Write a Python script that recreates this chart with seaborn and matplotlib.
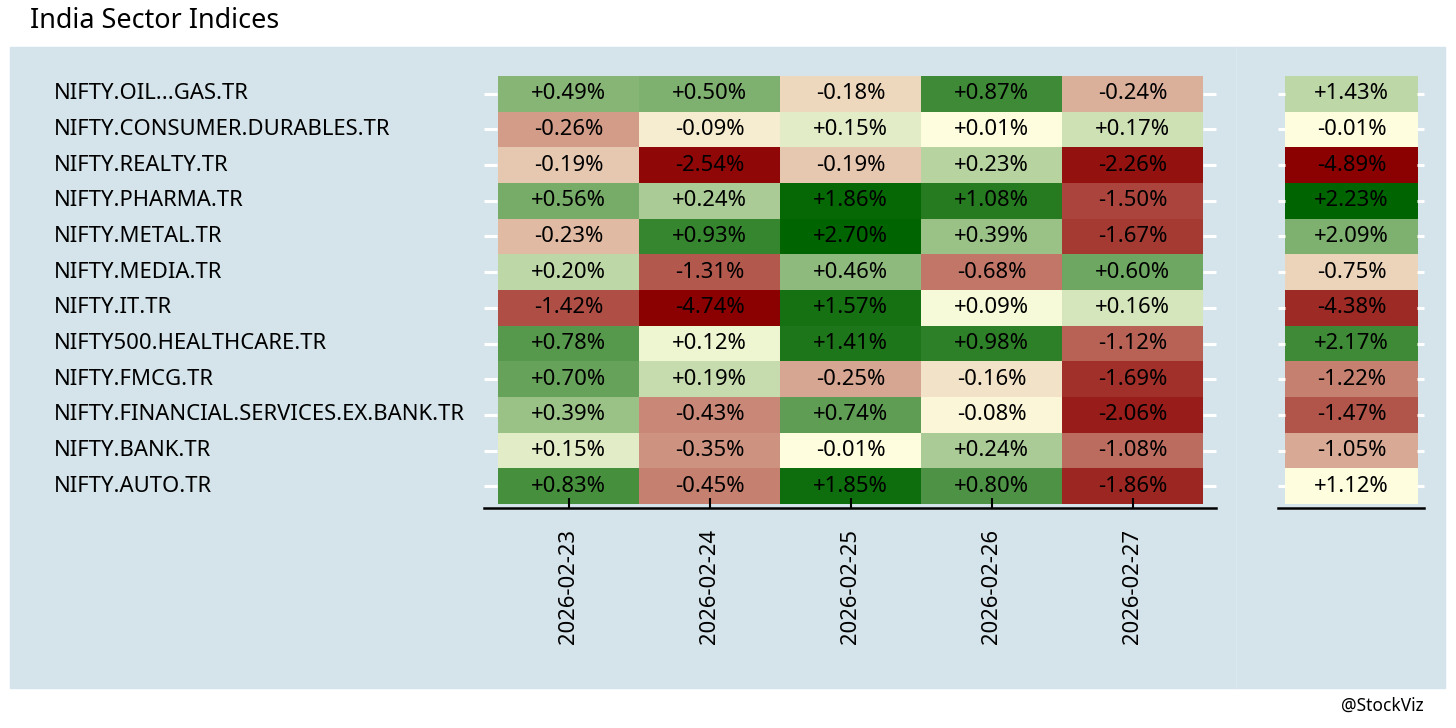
import numpy as np
import pandas as pd
import seaborn as sns
import matplotlib.pyplot as plt
from matplotlib.colors import LinearSegmentedColormap
from matplotlib.patches import Rectangle

# Data (daily % returns, plus the weekly total)
indices = ['NIFTY.OIL...GAS.TR', 'NIFTY.CONSUMER.DURABLES.TR', 'NIFTY.REALTY.TR',
           'NIFTY.PHARMA.TR', 'NIFTY.METAL.TR', 'NIFTY.MEDIA.TR', 'NIFTY.IT.TR',
           'NIFTY500.HEALTHCARE.TR', 'NIFTY.FMCG.TR', 'NIFTY.FINANCIAL.SERVICES.EX.BANK.TR',
           'NIFTY.BANK.TR', 'NIFTY.AUTO.TR']
dates = ['2026-02-23', '2026-02-24', '2026-02-25', '2026-02-26', '2026-02-27']
d0223 = [0.49, -0.26, -0.19, 0.56, -0.23, 0.20, -1.42, 0.78, 0.70, 0.39, 0.15, 0.83]
d0224 = [0.50, -0.09, -2.54, 0.24, 0.93, -1.31, -4.74, 0.12, 0.19, -0.43, -0.35, -0.45]
d0225 = [-0.18, 0.15, -0.19, 1.86, 2.70, 0.46, 1.57, 1.41, -0.25, 0.74, -0.01, 1.85]
d0226 = [0.87, 0.01, 0.23, 1.08, 0.39, -0.68, 0.09, 0.98, -0.16, -0.08, 0.24, 0.80]
d0227 = [-0.24, 0.17, -2.26, -1.50, -1.67, 0.60, 0.16, -1.12, -1.69, -2.06, -1.08, -1.86]
total = [1.43, -0.01, -4.89, 2.23, 2.09, -0.75, -4.38, 2.17, -1.22, -1.47, -1.05, 1.12]

df = pd.DataFrame({'2026-02-23': d0223, '2026-02-24': d0224, '2026-02-25': d0225,
                   '2026-02-26': d0226, '2026-02-27': d0227}, index=indices)[dates]
df_tot = pd.DataFrame({'total': total}, index=indices)


# fill scale: rank within sign, so -1 = most negative, +1 = most positive
def signed_rank(frame):
    s = frame.stack()
    out = pd.Series(0.0, index=s.index)
    for sign in (1, -1):
        part = s[s * sign > 0].abs()
        r = part.rank(method='average')
        out[part.index] = sign * (r - 1) / max(len(part) - 1, 1)
    return out.unstack().loc[frame.index, frame.columns]


def pct(frame):
    return frame.map(lambda v: f'{v:+.2f}%')


cmap = LinearSegmentedColormap.from_list('rg', ['#8B0000', '#FFFFE0', '#006400'])
plt.rcParams['font.family'] = ['Noto Sans', 'DejaVu Sans']

fig = plt.figure(figsize=(14.56, 7.28), dpi=100)
W, H = 1456, 728
fig.patches.append(Rectangle((10 / W, 1 - 688 / H), 1435 / W, 641 / H,
                             transform=fig.transFigure, color='#d5e4eb', zorder=-2))
fig.lines.append(plt.Line2D([1236 / W] * 2, [1 - 688 / H, 1 - 47 / H],
                            transform=fig.transFigure, color='#dae7ed', lw=1, zorder=-1))

ax = fig.add_axes([484 / W, 1 - 508 / H, 732 / W, 436 / H])
ax2 = fig.add_axes([1278 / W, 1 - 508 / H, 146 / W, 436 / H])

fs = 15.9
annot_kws = {'color': 'black', 'fontsize': fs}
sns.heatmap(signed_rank(df), ax=ax, cmap=cmap, vmin=-1, vmax=1, cbar=False,
            annot=pct(df), fmt='', annot_kws=annot_kws)
sns.heatmap(signed_rank(df_tot), ax=ax2, cmap=cmap, vmin=-1, vmax=1, cbar=False,
            annot=pct(df_tot), fmt='', annot_kws=annot_kws)

ax.set_xlim(-0.1, 5.09)
ax.set_ylim(12.112, -0.112)
ax2.set_xlim(-0.053, 1.045)
ax2.set_ylim(12.112, -0.112)

for a in (ax, ax2):
    a.set_zorder(2)
    a.set_facecolor('none')
    a.set_xlabel('')
    a.set_ylabel('')
    for side in ('top', 'left', 'right'):
        a.spines[side].set_visible(False)
    a.spines['bottom'].set_visible(True)
    a.spines['bottom'].set_color('black')
    a.spines['bottom'].set_linewidth(1.8)

ax.tick_params(axis='y', left=True, right=True, labelright=False, direction='in',
               length=9.4, width=2.2, color='white', pad=310, labelsize=fs)
for lbl in ax.get_yticklabels():
    lbl.set_horizontalalignment('left')
ax.tick_params(axis='x', bottom=True, direction='in', length=7, width=1.5,
               color='black', pad=15, labelsize=fs, labelrotation=90)

ax2.tick_params(axis='y', left=True, right=True, labelleft=False, labelright=False,
                direction='in', length=5, width=2.2, color='white')
ax2.tick_params(axis='x', bottom=False, labelbottom=False)

fig.text(30 / W, 1 - 21 / H, 'India Sector Indices', fontsize=19.4, va='center', ha='left')
fig.text(1424 / W, 1 - 706 / H, '@StockViz', fontsize=12.5, va='center', ha='right')

fig.savefig('out.png', dpi=100)
